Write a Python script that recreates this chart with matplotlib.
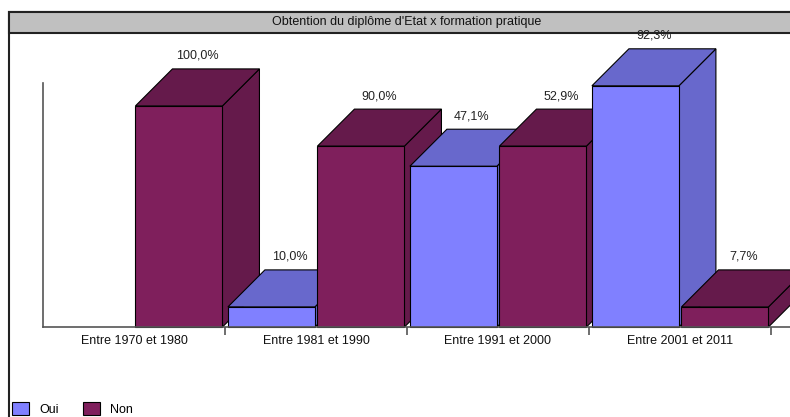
import matplotlib
matplotlib.use("Agg")
import matplotlib.pyplot as plt
from matplotlib.patches import Polygon, Rectangle

plt.rcParams['font.family'] = ['Liberation Sans', 'DejaVu Sans']

title = "Obtention du diplôme d'Etat x formation pratique"
categories = ["Entre 1970 et 1980", "Entre 1981 et 1990", "Entre 1991 et 2000", "Entre 2001 et 2011"]
series = ["Oui", "Non"]
# counts behind the percentages shown on the chart
oui = [0, 1, 8, 12]
non = [11, 9, 9, 1]

front_colors = ["#8080ff", "#7f1f5c"]
shade_colors = ["#6868cc", "#651a4b"]

W, H = 790, 417
fig = plt.figure(figsize=(W / 100, H / 100), dpi=100)

# chart frame and grey title band
fig.add_artist(Rectangle((9 / W, -0.1), 1.2, 1.1 - 12 / H, transform=fig.transFigure,
                         facecolor="white", edgecolor="#222222", lw=1.5, zorder=0))
fig.add_artist(Rectangle((9 / W, 1 - 33 / H), 1.2, 21 / H, transform=fig.transFigure,
                         facecolor="#c0c0c0", edgecolor="#222222", lw=1.5, zorder=1))
fig.text(407 / W, 1 - 22.5 / H, title, ha="center", va="center", fontsize=9, color="#111111", zorder=2)

ax_h_px = 244
ax = fig.add_axes([43 / W, (H - 327) / H, 728 / W, ax_h_px / H])
ax.set_zorder(5)  # so the labels can sit over the title band
ymax = 12.14
ax.set_xlim(0, 4)
ax.set_ylim(0, ymax)
ax.patch.set_alpha(0)

# 3D depth converted from pixels to data units
depth_px = 37
ddx = depth_px / (728 / 4)
ddy = depth_px / (ax_h_px / ymax)

width = 0.478
lefts = [0.016, 0.508]
values = [oui, non]

order = 0
for i in range(len(categories)):
    total = oui[i] + non[i]
    for j in range(2):
        v = values[j][i]
        if v == 0:
            continue
        x0 = i + lefts[j]
        z = 3 + 2 * order
        order += 1
        bars = ax.bar([x0], [v], width=width, align="edge", color=front_colors[j],
                      edgecolor="black", linewidth=0.8, zorder=z + 1)
        for b in bars:
            b.set_clip_on(False)
        top = Polygon([(x0, v), (x0 + width, v), (x0 + width + ddx, v + ddy), (x0 + ddx, v + ddy)],
                      closed=True, facecolor=shade_colors[j], edgecolor="black", lw=0.8,
                      zorder=z, clip_on=False)
        side = Polygon([(x0 + width, 0), (x0 + width + ddx, ddy), (x0 + width + ddx, v + ddy), (x0 + width, v)],
                       closed=True, facecolor=shade_colors[j], edgecolor="black", lw=0.8,
                       zorder=z, clip_on=False)
        ax.add_patch(side)
        ax.add_patch(top)
        pct = f"{100 * v / total:.1f}%".replace(".", ",")
        ax.text(x0 + (width + ddx) / 2, v + ddy + 0.65, pct, ha="center", va="center",
                fontsize=9, color="#222222", zorder=50, clip_on=False)

for s in ["top", "right", "bottom"]:
    ax.spines[s].set_visible(False)
ax.spines["left"].set_color("#555555")
ax.spines["left"].set_linewidth(1.2)
ax.axhline(0, xmin=0, xmax=1.03, color="#555555", lw=1.2, clip_on=False, zorder=60)

ax.set_yticks([])
ax.set_xticks([1, 2, 3, 4])
ax.set_xticklabels([])
ax.tick_params(axis="x", which="major", length=6, width=1.2, color="#555555", direction="out")
ax.set_xticks([0.5, 1.5, 2.5, 3.5], minor=True)
ax.set_xticklabels(categories, minor=True, fontsize=9, color="#111111")
ax.tick_params(axis="x", which="minor", length=0, pad=6)

handles = [Rectangle((0, 0), 1, 1, facecolor=c, edgecolor="black", lw=0.8) for c in front_colors]
fig.legend(handles, series, loc="upper left", bbox_to_anchor=(12 / W, 1 - 402 / H), ncol=2,
           frameon=False, fontsize=9, handlelength=1.35, handleheight=1.2, handletextpad=0.8,
           columnspacing=2.0, borderpad=0, borderaxespad=0)

fig.savefig("out.png", dpi=100)
